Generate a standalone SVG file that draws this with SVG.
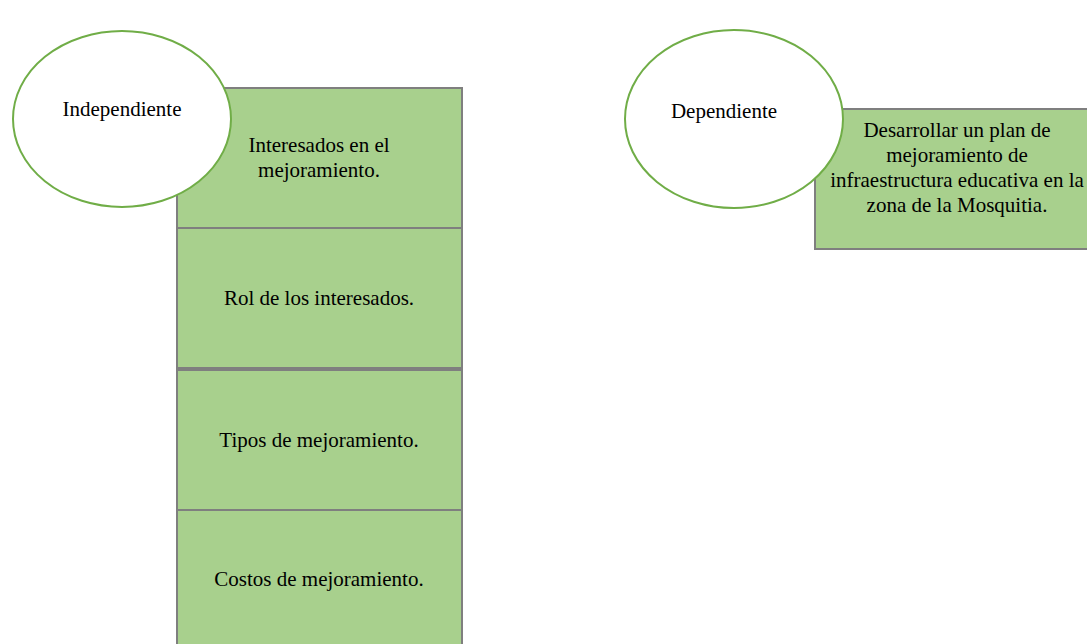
<svg xmlns="http://www.w3.org/2000/svg" width="1087" height="644" viewBox="0 0 1087 644">
<style>
.box{fill:#a8d08d;stroke:#7f7f7f;stroke-width:2}
.oval{fill:#ffffff;stroke:#70ad47;stroke-width:2}
text{font-family:"Liberation Serif","Times New Roman",serif;font-size:21px;fill:#000;text-anchor:middle}
</style>
<rect width="1087" height="644" fill="#ffffff"/>
<g id="connectors"></g>
<g id="box1"><rect class="box" x="177" y="88" width="285" height="140"/><text x="319" y="152">Interesados en el</text><text x="319" y="177">mejoramiento.</text></g>
<g id="box2"><rect class="box" x="177" y="228" width="285" height="140"/><text x="319" y="305">Rol de los interesados.</text></g>
<g id="box3"><rect class="box" x="177" y="370" width="285" height="140"/><text x="319" y="447">Tipos de mejoramiento.</text></g>
<g id="box4"><rect class="box" x="177" y="510" width="285" height="150"/><text x="319" y="586">Costos de mejoramiento.</text></g>
<g id="independiente"><ellipse class="oval" cx="122" cy="119" rx="109" ry="88"/><text x="122" y="116">Independiente</text></g>
<g id="boxDep"><rect class="box" x="815" y="109" width="285" height="140"/><text x="957" y="137">Desarrollar un plan de</text><text x="957" y="162">mejoramiento de</text><text x="957" y="187">infraestructura educativa en la</text><text x="957" y="212">zona de la Mosquitia.</text></g>
<g id="dependiente"><ellipse class="oval" cx="734" cy="119" rx="109" ry="89"/><text x="724" y="118">Dependiente</text></g>
</svg>
